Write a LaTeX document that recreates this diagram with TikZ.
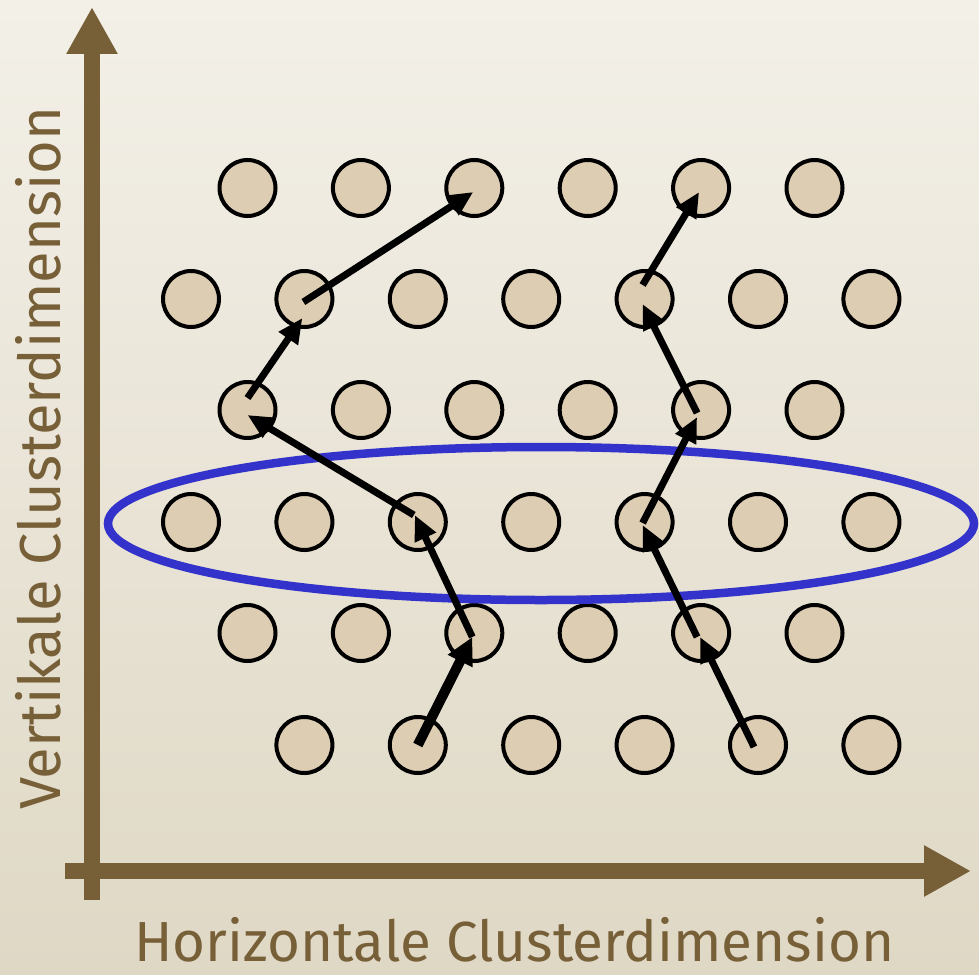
\documentclass[tikz,border=0pt]{standalone}
\usepackage{fontspec}
\setmainfont{Fira Sans}
\usetikzlibrary{arrows.meta}
\definecolor{bgtop}{HTML}{F3F0E8}
\definecolor{bgbot}{HTML}{DFD8C5}
\definecolor{axisbrown}{HTML}{775F38}
\definecolor{dotfill}{HTML}{DDCDB3}
\definecolor{ringblue}{HTML}{3333CC}
\tikzset{
  axisline/.style={draw=axisbrown, line width=16pt, -{Triangle[length=47pt,width=48pt]}, color=axisbrown},
  axislabel/.style={text=axisbrown, inner sep=0pt, font=\fontsize{58}{60}\selectfont},
  dot/.style={circle, draw=black, line width=4pt, fill=dotfill, minimum size=56pt, inner sep=0pt},
  move/.style={draw=black, line width=7pt, -{Triangle[length=25pt,width=22pt]}},
  bigmove/.style={move, line width=10pt, -{Triangle[length=27pt,width=26pt]}},
  ring/.style={draw=ringblue, line width=8.5pt}
}
\begin{document}
\begin{tikzpicture}[x=1pt,y=-1pt]
\useasboundingbox (0,0) rectangle (979,974);
% background
\shade[top color=bgtop, bottom color=bgbot] (0,0) rectangle (979,974);

% axes
\coordinate (yfoot) at (92,900);
\coordinate (ytop) at (92,7);
\coordinate (xfoot) at (65,871);
\coordinate (xtip) at (971,871);
\draw[axisline] (yfoot) -- (ytop);
\draw[axisline] (xfoot) -- (xtip);

% axis labels
\node[axislabel, anchor=base west] (hlabel) at (134,961)
  {\resizebox{760pt}{!}{Horizontale Clusterdimension}};
\node[axislabel, rotate=90, anchor=base west] (vlabel) at (60,810)
  {\resizebox{703pt}{!}{Vertikale Clusterdimension}};

% grid of cluster dots: odd rows have six, even rows seven positions
\foreach \r/\y in {1/188,3/410,5/633}
  \foreach \j in {0,...,5}
    \node[dot] (n\r-\j) at ({247.5+113.4*\j},\y) {};
\foreach \r/\y in {2/299,4/522}
  \foreach \j in {0,...,6}
    \node[dot] (n\r-\j) at ({191+113.4*\j},\y) {};
\foreach \j in {1,...,6}
  \node[dot] (n6-\j) at ({191+113.4*\j},745) {};

% highlighted row
\draw[ring] (541,523.5) ellipse [x radius=433, y radius=76.5];

% left path
\draw[bigmove] (n6-2.center) -- ([shift={(-2,4)}]n5-2.center);
\draw[move] ([shift={(-2,4)}]n5-2.center) -- ([shift={(-3,-7)}]n4-2.center);
\draw[move] ([shift={(-4,-7)}]n4-2.center) -- ([shift={(0,5)}]n3-0.center);
\draw[move] ([shift={(0,-12)}]n3-0.center) -- ([shift={(-2,19)}]n2-1.center);
\draw[move] ([shift={(-1,3)}]n2-1.center) -- ([shift={(-1,4)}]n1-2.center);

% right path
\draw[move] ([shift={(-4,2)}]n6-5.center) -- ([shift={(-1,4)}]n5-4.center);
\draw[move] ([shift={(-4,4)}]n5-4.center) -- ([shift={(-2,3)}]n4-4.center);
\draw[move] ([shift={(-2,1)}]n4-4.center) -- ([shift={(-4,7)}]n3-4.center);
\draw[move] ([shift={(-4,3)}]n3-4.center) -- ([shift={(-2,5)}]n2-4.center);
\draw[move] ([shift={(-2,-14)}]n2-4.center) -- ([shift={(-2,4)}]n1-4.center);
\end{tikzpicture}
\end{document}
